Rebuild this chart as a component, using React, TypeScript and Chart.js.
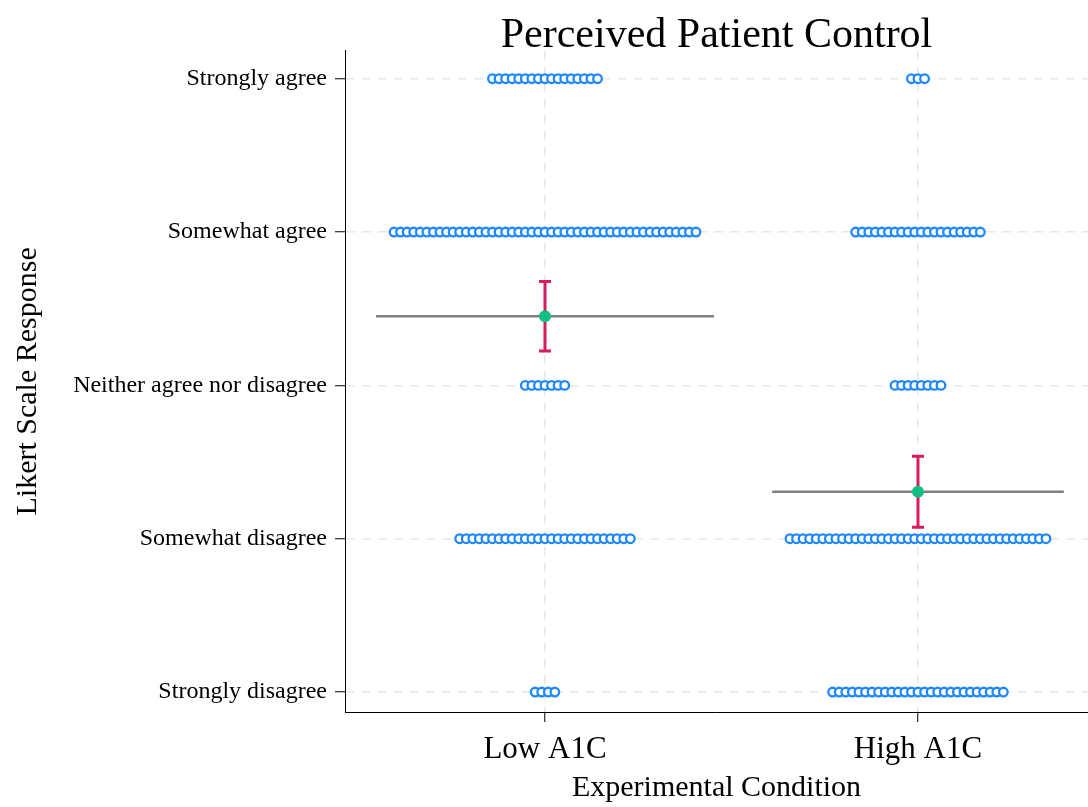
import React, { useEffect, useRef } from "react";
import { Chart, registerables } from "chart.js";

Chart.register(...registerables);

// Data
const categories = ["Low A1C", "High A1C"];
const likertLabels = [
  "Strongly disagree",
  "Somewhat disagree",
  "Neither agree nor disagree",
  "Somewhat agree",
  "Strongly agree",
];
const likertValues = [1, 2, 3, 4, 5];
// response counts per level (Strongly disagree .. Strongly agree)
const lowA1CCounts = [4, 27, 7, 47, 17];
const highA1CCounts = [27, 40, 8, 20, 3];
const countsByCondition = [lowA1CCounts, highA1CCounts];
// horizontal reference line half-width (x units) per condition
const refLineHalfWidth = [0.453, 0.391];

const DOT_STEP = 0.0176; // x-units between stacked dots
const FONT = "'Liberation Serif', 'Times New Roman', serif";

function stats(counts: number[]) {
  const n = counts.reduce((a, b) => a + b, 0);
  const mean = counts.reduce((a, c, i) => a + c * likertValues[i], 0) / n;
  const varS =
    counts.reduce((a, c, i) => a + c * (likertValues[i] - mean) ** 2, 0) / (n - 1);
  const ci = (1.96 * Math.sqrt(varS)) / Math.sqrt(n);
  return { mean, ci };
}

export default function App() {
  const ref = useRef<HTMLCanvasElement | null>(null);

  useEffect(() => {
    document.body.style.margin = "0";
    const canvas = ref.current;
    if (!canvas) return;

    const dots: { x: number; y: number }[] = [];
    countsByCondition.forEach((counts, ci) => {
      const cx = ci + 1;
      counts.forEach((n, li) => {
        for (let k = 0; k < n; k++) {
          dots.push({ x: cx + (k - (n - 1) / 2) * DOT_STEP, y: likertValues[li] });
        }
      });
    });

    const datasets: any[] = [];
    countsByCondition.forEach((counts, ci) => {
      const cx = ci + 1;
      const { mean } = stats(counts);
      datasets.push({
        type: "line",
        data: [
          { x: cx - refLineHalfWidth[ci], y: mean },
          { x: cx + refLineHalfWidth[ci], y: mean },
        ],
        borderColor: "#808080",
        borderWidth: 2.5,
        pointRadius: 0,
        showLine: true,
        order: 3,
      });
    });
    countsByCondition.forEach((counts, ci) => {
      const cx = ci + 1;
      const { mean, ci: half } = stats(counts);
      datasets.push({
        type: "line",
        data: [
          { x: cx, y: mean - half },
          { x: cx, y: mean + half },
        ],
        borderColor: "#D81B60",
        borderWidth: 3,
        pointStyle: "line",
        pointRadius: 6,
        pointBorderWidth: 3,
        pointBorderColor: "#D81B60",
        showLine: true,
        order: 2,
      });
    });
    datasets.push({
      type: "scatter",
      data: countsByCondition.map((c, i) => ({ x: i + 1, y: stats(c).mean })),
      backgroundColor: "#12BF82",
      borderColor: "#12BF82",
      pointRadius: 6,
      borderWidth: 0,
      order: 1,
    });
    datasets.push({
      type: "scatter",
      data: dots,
      backgroundColor: "#ffffff",
      borderColor: "#1E88FF",
      borderWidth: 2.3,
      pointRadius: 4.3,
      order: 4,
    });

    const zeroPad = (s: any) => {
      s.paddingLeft = 0;
      s.paddingRight = 0;
      s.paddingTop = 0;
      s.paddingBottom = 0;
    };

    const chart = new Chart(canvas, {
      type: "scatter",
      data: { datasets },
      options: {
        animation: false,
        responsive: false,
        layout: { autoPadding: false, padding: { left: 0, right: 0, top: 0, bottom: 0 } },
        plugins: {
          legend: { display: false },
          tooltip: { enabled: false },
          title: {
            display: true,
            fullSize: false,
            text: "Perceived Patient Control",
            color: "#000",
            font: { family: FONT, size: 42, weight: "normal", lineHeight: 0.9 },
            padding: { top: 17, bottom: -4 },
          },
        },
        scales: {
          x: {
            type: "linear",
            min: 0.4638,
            max: 2.4558,
            afterBuildTicks: (s: any) => {
              s.ticks = [{ value: 1 }, { value: 2 }];
            },
            afterFit: (s: any) => {
              s.height = 95;
              zeroPad(s);
            },
            ticks: {
              color: "#000",
              font: { family: FONT, size: 31 },
              padding: 9,
              autoSkip: false,
              maxRotation: 0,
              callback: (v: any) => categories[Math.round(Number(v)) - 1] ?? "",
            },
            grid: {
              color: "#e8e8e8",
              lineWidth: 1.5,
              tickColor: "#000",
              tickLength: 10,
              tickWidth: 1,
              tickBorderDash: [],
            },
            border: { display: true, color: "#000", width: 1, dash: [9, 7] },
            title: {
              display: true,
              text: "Experimental Condition",
              color: "#000",
              font: { family: FONT, size: 30 },
              padding: { top: 0, bottom: 1 },
            },
          },
          y: {
            type: "linear",
            min: 0.87,
            max: 5.182,
            afterBuildTicks: (s: any) => {
              s.ticks = likertValues.map((v) => ({ value: v }));
            },
            afterFit: (s: any) => {
              s.width = 345;
              zeroPad(s);
            },
            ticks: {
              color: "#000",
              font: { family: FONT, size: 24 },
              padding: 8,
              autoSkip: false,
              callback: (v: any) => likertLabels[Math.round(Number(v)) - 1] ?? "",
            },
            grid: {
              color: "#e8e8e8",
              lineWidth: 1.5,
              tickColor: "#000",
              tickLength: 10,
              tickWidth: 1,
              tickBorderDash: [],
            },
            border: { display: true, color: "#000", width: 1, dash: [9, 7] },
            title: {
              display: true,
              text: "Likert Scale Response",
              color: "#000",
              font: { family: FONT, size: 30 },
              padding: { top: 10, bottom: 0 },
            },
          },
        },
      },
    });
    return () => chart.destroy();
  }, []);

  return (
    <div style={{ width: 1088, height: 807 }}>
      <canvas ref={ref} width={1088} height={807} style={{ display: "block" }} />
    </div>
  );
}
